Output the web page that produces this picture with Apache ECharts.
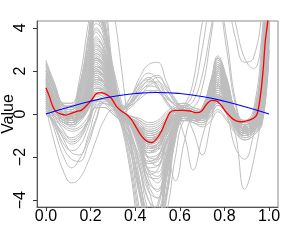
<!DOCTYPE html>
<html><head><meta charset="utf-8">
<script src="https://cdn.jsdelivr.net/npm/echarts@6/dist/echarts.min.js"></script>
<style>html,body{margin:0;padding:0;background:#fff}#c{width:289px;height:241px}</style>
</head><body><div id="c"></div>
<script>
// x positions at which the grey curves were read
const gridX = [0,0.04,0.08,0.115,0.15,0.19, 0.225,0.26,0.30,0.34,0.38, 0.42,0.46,0.50,0.54,0.58, 0.62,0.66,0.70,0.74,0.77, 0.81,0.85,0.89,0.93,0.97,1.0];

// main family
const A1 = [1.8,0.8,0.2,0.1,0.6,2.0, 3.8,3.2,1.2,0.1,-0.4, -1.0,-1.8,-1.6,-0.8,-0.2, 0.1,-0.1,0.2,1.2,2.2, 1.2,-0.2,-0.7,-0.5,1.6,6.5];
const A2 = [1.2,0.4,-0.1,-0.3,-0.1,1.0, 2.6,2.1,0.7,0.0,-0.3, -0.6,-1.2,-1.1,-0.5,0.0, 0.2,0.0,0.1,0.8,1.5, 0.8,-0.3,-0.6,-0.4,0.9,5.5];
const A3 = [0.6,0.1,-0.3,-0.5,-0.3,0.4, 1.3,1.1,0.4,-0.1,-0.4, -0.9,-1.6,-1.5,-0.9,-0.4, -0.2,-0.3,-0.2,0.3,0.8, 0.4,-0.4,-0.8,-0.6,0.2,4.8];
const A4 = [2.2,1.2,0.4,0.3,1.2,3.4, 5.0,4.2,1.6,0.2,-0.5, -1.3,-2.3,-2.1,-1.0,-0.3, 0.0,-0.2,0.1,1.4,2.5, 1.5,0.0,-0.5,-0.1,2.5,8];
const A5 = [0.9,0.2,-0.2,-0.3,0.0,0.8, 1.8,1.5,0.6,0.1,-0.2, -0.5,-0.9,-0.8,-0.3,0.2, 0.3,0.1,0.0,0.5,1.0, 0.5,-0.5,-0.9,-0.7,0.1,4.5];
const A6 = [1.5,0.6,0.0,-0.1,0.3,1.4, 3.2,2.7,1.0,0.1,-0.3, -1.1,-2.0,-1.9,-1.0,-0.3, -0.1,-0.2,0.0,0.9,1.8, 1.0,-0.1,-0.4,-0.2,1.8,7];
const A7 = [0.3,-0.1,-0.4,-0.6,-0.4,0.2, 0.9,0.8,0.3,-0.1,-0.3, -0.7,-1.1,-1.0,-0.5,0.0, 0.1,-0.1,-0.3,0.2,0.6, 0.2,-0.6,-1.0,-0.8,-0.2,4];
const A8 = [2.5,1.4,0.5,0.5,1.6,4.2, 6.0,5.0,2.0,0.3,-0.5, -1.6,-2.8,-2.6,-1.3,-0.4, 0.0,-0.1,0.3,1.6,2.7, 1.7,0.1,-0.4,0.0,3.2,9];
const A9 = [1.0,0.3,-0.1,-0.2,0.1,1.0, 2.3,1.9,0.7,0.0,-0.4, -1.2,-2.6,-2.9,-1.8,-0.6, -0.1,-0.3,-0.1,0.7,1.4, 0.7,-0.3,-0.7,-0.5,0.8,5.5];
const A10 = [0.7,0.1,-0.3,-0.4,-0.1,0.6, 1.5,1.3,0.5,0.0,-0.2, -0.4,-0.7,-0.6,-0.2,0.1, 0.3,0.2,0.1,0.6,1.1, 0.6,-0.2,-0.5,-0.3,1.3,6];
const A11 = [1.3,0.5,0.0,-0.1,0.2,1.2, 2.9,2.5,0.9,0.1,-0.3, -1.0,-2.1,-2.4,-1.4,-0.5, -0.1,-0.2,0.1,1.0,1.9, 1.1,-0.1,-0.5,-0.3,1.1,6];
const A12 = [0.2,-0.2,-0.5,-0.7,-0.6,-0.1, 0.6,0.5,0.1,-0.2,-0.3, -0.6,-1.0,-0.9,-0.5,-0.2, -0.1,-0.3,-0.4,0.0,0.4, 0.0,-0.7,-1.1,-0.9,-0.3,3.5];
const A13 = [1.9,1.0,0.3,0.2,0.8,2.6, 4.4,3.6,1.4,0.2,-0.4, -1.4,-2.7,-3.2,-2.0,-0.6, 0.0,-0.1,0.2,1.3,2.3, 1.3,0.0,-0.4,-0.2,2.2,7.5];
const A14 = [0.5,0.0,-0.3,-0.4,-0.2,0.5, 1.2,1.0,0.4,0.0,-0.1, -0.3,-0.5,-0.4,0.0,0.3, 0.4,0.2,0.0,0.4,0.7, 0.3,-0.4,-0.7,-0.5,0.4,4.5];
const A15 = [1.6,0.7,0.1,0.0,0.4,1.6, 3.5,3.0,1.1,0.1,-0.5, -1.5,-3.0,-3.6,-2.3,-0.8, -0.2,-0.3,0.0,1.1,2.0, 1.1,-0.2,-0.6,-0.4,1.4,6.5];
const A16 = [1.1,0.4,0.0,-0.2,0.0,0.9, 2.1,1.7,0.6,0.0,-0.3, -0.8,-1.4,-1.2,-0.6,-0.1, 0.0,-0.2,-0.1,0.5,1.3, 0.7,-0.4,-0.8,-0.6,0.6,5];
const A17 = [1.4,0.6,0.1,0.0,0.3,1.2, 2.7,2.3,0.8,0.0,-0.2, -0.5,-0.8,-0.7,-0.2,0.3, 0.5,0.3,0.2,0.9,1.7, 0.9,-0.1,-0.5,-0.2,2.0,7];
const A18 = [0.8,0.3,0.0,-0.1,0.1,0.7, 1.6,1.4,0.6,0.1,-0.1, -0.2,-0.4,-0.3,0.1,0.4, 0.5,0.3,0.2,0.7,1.2, 0.6,-0.2,-0.5,-0.3,1.0,5.5];
const A19 = [2.0,1.0,0.3,0.2,0.9,2.9, 4.8,4.0,1.5,0.2,-0.4, -1.2,-2.2,-2.0,-1.0,-0.3, 0.1,0.0,0.3,1.5,2.6, 1.6,0.1,-0.3,0.2,3.8,10];
const A20 = [0.0,-0.3,-0.6,-0.8,-0.7,-0.3, 0.3,0.3,0.0,-0.3,-0.4, -0.7,-1.0,-0.9,-0.6,-0.3, -0.3,-0.4,-0.6,-0.3,0.1, -0.3,-0.9,-1.2,-1.0,-0.4,3];
const F1 = [2.4,1.3,0.4,0.3,1.0,3.0, 5.5,4.5,1.7,0.3,-0.3, -0.9,-1.6,-1.4,-0.6,0.0, 0.2,0.0,0.2,1.2,2.1, 1.2,-0.1,-0.6,-0.3,2.2,8];
const F2 = [1.7,0.8,0.2,0.0,0.5,1.7, 3.6,3.0,1.1,0.0,-0.6, -1.7,-3.3,-3.9,-2.6,-1.0, -0.3,-0.3,0.0,1.0,1.9, 1.0,-0.3,-0.7,-0.5,1.0,6];
const F3 = [1.0,0.4,0.0,-0.1,0.2,1.0, 2.0,1.7,0.7,0.1,-0.1, -0.3,-0.6,-0.5,-0.1,0.3, 0.4,0.2,0.1,0.9,1.6, 0.9,-0.2,-0.6,-0.4,1.2,6];
const F4 = [0.5,0.1,-0.2,-0.3,-0.1,0.6, 1.4,1.2,0.5,0.0,-0.3, -0.8,-1.5,-1.4,-0.7,-0.1, 0.1,-0.1,-0.1,0.6,1.2, 0.6,-0.4,-0.8,-0.6,0.5,5];
const F5 = [2.1,1.1,0.4,0.3,1.1,3.1, 5.2,4.4,1.7,0.2,-0.5, -1.5,-2.9,-3.0,-1.7,-0.4, 0.1,0.0,0.3,1.4,2.4, 1.4,0.0,-0.4,-0.1,2.6,8.5];
const F6 = [1.3,0.5,0.0,-0.2,0.1,1.0, 2.4,2.0,0.8,0.0,-0.5, -1.3,-2.3,-2.2,-1.2,-0.4, -0.1,-0.2,0.0,0.8,1.5, 0.8,-0.3,-0.7,-0.5,0.8,5.5];
const F7 = [0.9,0.3,-0.1,-0.2,0.1,0.8, 1.7,1.5,0.6,0.1,-0.2, -0.6,-1.0,-0.9,-0.4,0.1, 0.2,0.0,0.0,0.7,1.3, 0.6,-0.4,-0.8,-0.6,0.7,5.5];
const F8 = [1.8,0.9,0.3,0.2,0.8,2.4, 4.6,3.8,1.4,0.1,-0.5, -1.4,-2.5,-2.4,-1.3,-0.4, 0.0,-0.1,0.2,1.2,2.2, 1.2,0.0,-0.5,-0.2,2.0,7.5];
const F9 = [0.4,-0.1,-0.4,-0.5,-0.3,0.3, 1.0,0.9,0.3,-0.1,-0.3, -0.6,-1.2,-1.1,-0.6,-0.1, 0.0,-0.2,-0.2,0.3,0.7, 0.3,-0.6,-1.0,-0.8,0.0,4];
const F10 = [1.5,0.7,0.1,0.0,0.4,1.5, 3.3,2.8,1.1,0.1,-0.3, -0.9,-1.7,-1.6,-0.8,-0.2, 0.0,-0.1,0.1,1.0,1.8, 1.0,-0.2,-0.6,-0.4,1.3,6.5];
const F11 = [2.3,1.2,0.4,0.4,1.3,3.7, 6.5,5.5,2.2,0.3,-0.6, -1.8,-3.2,-3.5,-2.0,-0.5, 0.0,0.0,0.3,1.6,2.6, 1.6,0.1,-0.3,0.0,3.0,9];
const F12 = [1.1,0.4,0.0,-0.1,0.2,1.0, 2.2,1.9,0.8,0.1,-0.2, -0.5,-0.9,-0.8,-0.3,0.2, 0.3,0.1,0.1,0.8,1.4, 0.7,-0.3,-0.7,-0.5,0.9,5.5];
const F13 = [0.7,0.2,-0.2,-0.3,0.0,0.7, 1.6,1.4,0.5,0.0,-0.4, -1.1,-2.0,-2.1,-1.2,-0.4, -0.2,-0.3,-0.2,0.4,0.9, 0.4,-0.5,-0.9,-0.7,0.3,4.5];
const F14 = [1.6,0.8,0.2,0.1,0.6,2.0, 4.0,3.4,1.3,0.1,-0.4, -1.2,-2.2,-2.0,-1.0,-0.2, 0.1,0.0,0.2,1.1,2.0, 1.1,-0.1,-0.5,-0.3,1.7,7];
const F15 = [0.3,-0.1,-0.4,-0.5,-0.3,0.3, 1.1,1.0,0.4,0.0,-0.2, -0.4,-0.8,-0.7,-0.3,0.1, 0.2,0.0,-0.1,0.4,0.8, 0.3,-0.5,-0.9,-0.7,0.2,4.5];
const F16 = [2.0,1.0,0.3,0.2,0.9,2.7, 5.0,4.1,1.5,0.1,-0.5, -1.4,-2.6,-2.7,-1.5,-0.4, 0.0,-0.1,0.2,1.3,2.3, 1.3,0.0,-0.4,-0.1,2.4,8];

// deep dips near 0.5
const D1 = [1.4,0.6,0.1,0.0,0.4,1.5, 3.4,3.0,1.2,-0.2,-1.5, -3.5,-5.5,-5.8,-3.5,-1.0, -0.1,-0.2,0.0,1.0,1.9, 1.0,-0.2,-0.6,-0.4,1.2,6];
const D2 = [0.8,0.2,-0.2,-0.3,0.0,0.9, 2.2,2.0,0.8,-0.6,-2.8, -5.5,-6.5,-6.0,-3.0,-0.6, 0.1,-0.1,0.0,0.8,1.6, 0.8,-0.3,-0.7,-0.5,0.7,5.5];
const D3 = [2.0,1.1,0.3,0.2,0.8,2.4, 4.8,4.2,2.0,0.2,-1.0, -3.0,-5.0,-5.2,-2.8,-0.7, 0.0,-0.1,0.2,1.4,2.4, 1.4,0.0,-0.4,-0.2,2.0,7];
const D4 = [1.0,0.3,-0.1,-0.2,0.2,1.1, 2.6,2.3,1.0,-0.1,-0.8, -2.5,-4.5,-4.8,-2.5,-0.5, 0.0,-0.2,-0.1,0.7,1.4, 0.7,-0.3,-0.7,-0.5,0.6,5.5];
const D5 = [1.7,0.8,0.2,0.1,0.6,2.0, 4.2,3.8,1.8,-0.3,-2.5, -5.0,-6.0,-5.5,-2.2,-0.3, 0.1,0.0,0.1,1.2,2.1, 1.2,-0.1,-0.5,-0.3,1.6,6.5];
const D6 = [2.3,1.3,0.5,0.5,1.3,3.5, 6.5,7.0,5.0,2.0,-1.5, -4.5,-6.5,-6.0,-2.5,-0.4, 0.0,-0.1,0.2,1.5,2.6, 1.5,0.0,-0.4,-0.2,2.8,8];
const D7 = [0.4,0.0,-0.3,-0.4,-0.2,0.4, 1.2,1.1,0.3,-0.5,-1.2, -2.6,-4.0,-4.4,-2.4,-0.6, 0.0,-0.2,-0.2,0.3,0.9, 0.4,-0.5,-0.9,-0.7,0.0,4.5];
const D8 = [1.2,0.5,0.0,-0.1,0.3,1.3, 3.0,2.6,1.0,-0.1,-1.0, -2.0,-3.5,-4.5,-3.8,-1.2, -0.2,-0.2,0.0,0.9,1.7, 0.9,-0.2,-0.6,-0.4,0.9,6];
const G1 = [1.1,0.4,0.0,-0.1,0.2,1.1, 2.5,2.3,1.0,-0.3,-1.8, -3.8,-5.2,-5.0,-3.0,-0.8, 0.0,-0.1,0.0,0.8,1.6, 0.8,-0.2,-0.6,-0.4,1.0,6];
const G2 = [1.6,0.7,0.1,0.0,0.5,1.8, 3.9,3.5,1.6,-0.1,-2.2, -4.8,-6.5,-6.5,-4.0,-1.2, -0.1,-0.1,0.1,1.1,2.0, 1.1,-0.1,-0.5,-0.3,1.5,6.5];
const G3 = [0.6,0.1,-0.2,-0.3,0.0,0.6, 1.6,1.5,0.6,-0.4,-1.5, -3.2,-4.6,-4.2,-2.0,-0.4, 0.1,-0.1,-0.1,0.5,1.1, 0.5,-0.4,-0.8,-0.6,0.4,5];
const G4 = [1.9,1.0,0.3,0.2,0.7,2.2, 4.5,4.0,2.2,0.5,-1.2, -3.6,-5.8,-6.2,-3.8,-1.0, 0.0,-0.1,0.2,1.3,2.2, 1.3,0.0,-0.4,-0.2,2.0,7];
const G5 = [0.9,0.3,-0.1,-0.2,0.1,0.9, 2.0,1.8,0.8,-0.2,-1.0, -2.2,-3.6,-3.9,-2.4,-0.7, -0.1,-0.2,0.0,0.6,1.3, 0.6,-0.3,-0.7,-0.5,0.6,5.5];
const G6 = [1.4,0.6,0.1,0.0,0.4,1.5, 3.2,2.9,1.3,0.0,-1.4, -3.2,-4.8,-5.6,-4.6,-2.0, -0.3,-0.2,0.0,1.0,1.8, 1.0,-0.2,-0.6,-0.4,1.1,6];
const G7 = [0.3,-0.1,-0.4,-0.5,-0.3,0.3, 1.0,1.0,0.4,-0.6,-1.8, -3.6,-4.8,-4.4,-2.2,-0.5, 0.0,-0.2,-0.3,0.2,0.7, 0.3,-0.6,-1.0,-0.8,0.0,4];
const G8 = [1.2,0.5,0.0,-0.1,0.3,1.2, 2.8,2.5,1.1,0.0,-0.9, -2.4,-4.0,-4.6,-3.0,-0.9, -0.1,-0.2,0.0,0.9,1.7, 0.9,-0.2,-0.6,-0.4,1.0,6];

// bumps near 0.5
const B1 = [0.9,0.2,-0.2,-0.3,-0.1,0.6, 1.4,1.2,0.4,0.0,0.5, 1.3,1.7,1.3,0.6,0.2, 0.0,-0.2,0.0,0.5,0.9, 0.4,-0.4,-0.8,-0.6,0.3,5];
const B2 = [1.3,0.5,0.0,-0.1,0.2,1.1, 2.4,2.0,0.7,0.2,0.6, 1.2,1.5,1.4,0.8,0.4, 0.2,0.0,0.1,0.7,1.3, 0.7,-0.3,-0.6,-0.4,1.0,5.5];
const B3 = [0.6,0.0,-0.3,-0.4,-0.2,0.4, 1.0,0.9,0.4,0.2,0.6, 1.5,1.9,1.6,0.9,0.4, 0.1,-0.1,-0.1,0.3,0.7, 0.3,-0.5,-0.9,-0.7,0.2,4.5];
const B4 = [1.0,0.3,-0.1,-0.2,0.1,0.8, 1.9,1.7,0.8,0.4,0.5, 0.9,1.1,1.0,0.7,0.5, 0.3,0.1,0.0,0.6,1.1, 0.6,-0.3,-0.7,-0.5,0.5,5];
const B5 = [0.4,-0.1,-0.4,-0.5,-0.3,0.2, 0.8,0.7,0.3,0.1,0.3, 0.8,1.3,1.5,1.1,0.6, 0.2,-0.1,-0.2,0.2,0.5, 0.2,-0.6,-1.0,-0.8,-0.1,4];
const B6 = [1.6,0.7,0.1,0.0,0.4,1.4, 3.1,2.6,1.0,0.3,0.5, 1.0,1.3,1.2,0.6,0.1, 0.0,-0.1,0.1,0.9,1.6, 0.8,-0.2,-0.5,-0.3,1.5,6];
const B7 = [0.8,0.2,-0.2,-0.3,0.0,0.7, 1.6,1.4,0.6,0.3,0.8, 1.7,2.3,2.4,1.5,0.6, 0.2,-0.1,0.0,0.5,1.0, 0.5,-0.4,-0.8,-0.6,0.4,5];
const H1 = [1.1,0.4,0.0,-0.1,0.2,0.9, 2.1,1.8,0.7,0.3,0.8, 1.4,1.6,1.2,0.5,0.1, 0.0,-0.1,0.1,0.7,1.3, 0.7,-0.3,-0.7,-0.5,0.8,5.5];
const H2 = [0.7,0.1,-0.2,-0.3,-0.1,0.5, 1.2,1.1,0.5,0.3,0.4, 0.7,1.0,1.1,0.8,0.4, 0.1,-0.1,-0.1,0.4,0.8, 0.3,-0.5,-0.9,-0.7,0.3,4.5];
const H3 = [1.4,0.6,0.1,0.0,0.3,1.3, 2.8,2.4,0.9,0.2,0.4, 1.0,1.4,1.7,1.3,0.7, 0.2,0.0,0.1,0.8,1.5, 0.8,-0.2,-0.6,-0.4,1.0,6];
const H4 = [0.5,0.0,-0.3,-0.4,-0.2,0.3, 0.9,0.8,0.4,0.2,0.5, 1.1,1.6,1.8,1.2,0.5, 0.0,-0.2,-0.2,0.2,0.6, 0.2,-0.6,-1.0,-0.8,0.0,4];

// low dips near 0.12
const C1 = [0.3,-1.4,-2.7,-3.2,-3.0,-2.2, -1.2,-0.3,0.2,-0.1,-0.4, -0.8,-1.3,-1.2,-0.6,-0.1, 0.0,-0.2,-0.2,0.3,0.8, 0.3,-0.5,-0.9,-0.7,0.2,4.5];
const C2 = [0.5,-0.8,-2.0,-2.5,-2.1,-1.2, -0.2,0.6,0.5,0.0,-0.3, -0.7,-1.2,-1.1,-0.5,0.0, 0.1,-0.1,-0.1,0.4,0.9, 0.4,-0.4,-0.8,-0.6,0.4,5];
const C3 = [0.2,-0.6,-1.6,-2.1,-2.2,-1.4, -0.3,0.5,0.3,-0.2,-0.5, -0.9,-1.4,-1.3,-0.7,-0.2, -0.1,-0.3,-0.3,0.1,0.5, 0.1,-0.6,-1.0,-0.8,0.0,4];
const C4 = [0.6,-0.3,-1.2,-1.8,-1.9,-1.0, 0.2,0.7,0.3,-0.1,-0.4, -0.8,-1.2,-1.0,-0.4,0.0, 0.1,-0.1,-0.1,0.3,0.7, 0.3,-0.5,-0.9,-0.7,0.3,4.5];
const C5 = [0.1,-0.5,-1.1,-1.4,-1.2,-0.4, 0.4,0.5,0.2,-0.2,-0.5, -0.9,-1.3,-1.2,-0.7,-0.3, -0.2,-0.3,-0.4,0.0,0.4, 0.0,-0.7,-1.1,-0.9,-0.2,3.5];
const C6 = [0.0,-0.4,-0.9,-1.1,-0.9,-0.3, 0.3,0.3,0.0,-0.3,-0.5, -0.8,-1.1,-1.0,-0.6,-0.3, -0.3,-0.4,-0.5,-0.1,0.2, -0.2,-0.8,-1.2,-1.0,-0.3,3];
const I1 = [0.4,-0.5,-1.4,-1.7,-1.5,-0.6, 0.5,0.7,0.3,-0.1,-0.4, -0.8,-1.3,-1.2,-0.6,-0.1, 0.0,-0.2,-0.2,0.3,0.7, 0.3,-0.5,-0.9,-0.7,0.1,4.5];
const I2 = [0.2,-0.4,-1.0,-1.3,-1.1,-0.3, 0.6,0.7,0.3,-0.1,-0.4, -0.9,-1.5,-1.4,-0.8,-0.2, -0.1,-0.3,-0.3,0.2,0.6, 0.2,-0.6,-1.0,-0.8,0.0,4];
const I3 = [0.6,-0.1,-0.8,-1.2,-1.0,-0.2, 0.9,1.0,0.4,0.0,-0.3, -0.7,-1.1,-1.0,-0.4,0.0, 0.1,-0.1,-0.1,0.4,0.8, 0.4,-0.4,-0.8,-0.6,0.3,4.5];

// outlying curves
const E1 = [0.8,0.2,-0.2,-0.3,0.0,0.8, 1.8,1.5,0.6,0.0,-0.3, -0.7,-1.2,-1.0,-0.4,0.0, 0.1,-0.1,0.0,0.5,0.9, 0.2,-1.0,-3.5,-2.2,0.5,5];
const E2 = [1.1,0.4,0.0,-0.2,0.1,0.9, 2.0,1.7,0.6,-0.1,-0.6, -1.2,-1.8,-1.6,-1.9,-3.1, -1.3,-0.1,0.0,0.6,1.2, 0.6,-0.3,-0.7,-0.5,0.6,5];
const E3 = [0.9,0.3,-0.1,-0.3,0.0,0.8, 1.7,1.4,0.5,0.0,-0.3, -0.9,-1.6,-1.4,-0.6,-0.2, -1.0,-2.6,-1.1,0.3,0.9, 0.4,-0.4,-0.8,-0.6,0.4,5];
const E4 = [1.2,0.5,0.0,-0.1,0.2,1.1, 2.5,2.1,0.8,0.0,-0.3, -0.8,-1.3,-1.1,-0.4,0.1, 0.0,-0.8,-1.9,-0.4,0.8, 0.6,-0.3,-0.6,-0.4,0.8,5.5];
const E5 = [0.7,0.1,-0.3,-0.4,-0.1,0.6, 1.5,1.3,0.5,0.0,-0.3, -0.7,-1.2,-1.1,-0.5,0.0, 0.1,-0.1,-0.1,0.4,0.8, 0.0,-1.6,-2.1,-1.0,0.6,5];
const E6 = [1.5,0.6,0.0,-0.1,0.3,1.3, 3.0,2.6,1.0,0.1,-0.3, -1.0,-1.8,-1.7,-0.8,-0.1, 0.2,0.3,1.2,3.6,5.5, 3.5,0.6,-0.4,-0.2,1.6,6.5];
const E7 = [1.0,0.3,-0.1,-0.2,0.1,1.0, 2.2,1.9,0.7,0.0,-0.3, -0.8,-1.4,-1.2,-0.5,0.0, 0.3,0.6,1.8,4.0,5.5, 6.0,4.2,2.6,2.1,3.8,8];
const E8 = [1.3,0.5,0.0,-0.1,0.2,1.1, 2.6,2.2,0.8,0.0,-0.3, -0.9,-1.6,-1.5,-0.7,-0.1, 0.3,1.0,3.0,5.5,6.5, 5.5,3.5,2.4,2.6,5.0,9];
const E9 = [0.9,0.3,-0.1,-0.2,0.1,0.9, 1.9,1.6,0.6,0.0,-0.3, -0.8,-1.3,-1.2,-0.5,0.0, 0.4,1.5,4.2,6.0,5.5, 3.0,0.4,-0.5,-0.3,1.2,6];

const grayCurves = [A1,A2,A3,A4,A5,A6,A7,A8,A9,A10,A11,A12,A13,A14,A15,A16,A17,A18,A19,A20,
  F1,F2,F3,F4,F5,F6,F7,F8,F9,F10,F11,F12,F13,F14,F15,F16,
  D1,D2,D3,D4,D5,D6,D7,D8, G1,G2,G3,G4,G5,G6,G7,G8,
  B1,B2,B3,B4,B5,B6,B7, H1,H2,H3,H4,
  C1,C2,C3,C4,C5,C6, I1,I2,I3,
  E1,E2,E3,E4,E5,E6,E7,E8,E9];

// red curve
const redX = [0,0.015,0.03,0.045,0.068,0.09,0.113,0.135,0.158,0.18,0.203,0.225,0.248,0.27,0.293,0.315,0.338,0.36,0.383,0.405,0.428,0.45,0.473,0.495,0.518,0.54,0.555,0.578,0.616,0.645,0.676,0.698,0.72,0.743,0.766,0.788,0.81,0.84,0.87,0.9,0.93,0.946,0.96,0.973,0.983,0.994,1.0];
const redY = [1.22,0.83,0.37,0.11,-0.01,-0.05,0.03,0.11,0.17,0.37,0.63,0.94,0.99,0.91,0.73,0.37,0.14,-0.01,-0.25,-0.63,-1.02,-1.25,-1.33,-1.17,-0.79,-0.25,0.06,0.17,0.17,0.14,0.06,0.14,0.45,0.63,0.6,0.37,0.06,-0.25,-0.36,-0.32,-0.2,-0.01,0.75,1.99,3.38,4.3,5.3];

// blue curve
const blueX = [0,0.1,0.2,0.3,0.4,0.5,0.6,0.7,0.8,0.9,1.0];
const blueY = [0,0.31,0.59,0.81,0.95,1.0,0.95,0.81,0.59,0.31,0];

const xTicks = [0,0.2,0.4,0.6,0.8,1.0];
const yTicks = [-4,-2,0,2,4];

const FONT = 'Liberation Sans, Arial, Helvetica, sans-serif';
const zip = (xs, ys) => xs.map((x, i) => [x, ys[i]]);

const series = grayCurves.map(c => ({
  type: 'line', data: zip(gridX, c), smooth: 0.45, showSymbol: false, silent: true,
  lineStyle: { color: '#bebebe', width: 1 }, z: 1
}));
series.push({ type: 'line', data: zip(redX, redY), smooth: 0.3, showSymbol: false, silent: true,
  lineStyle: { color: '#ff0000', width: 1.3 }, z: 3 });
series.push({ type: 'line', data: zip(blueX, blueY), smooth: true, showSymbol: false, silent: true,
  lineStyle: { color: '#0000ff', width: 1.1 }, z: 4 });

const chart = echarts.init(document.getElementById('c'), null, { renderer: 'canvas' });
chart.setOption({
  animation: false,
  backgroundColor: '#fff',
  grid: { left: 37, right: 11, top: 21, bottom: 34, show: true, borderColor: '#8c8c8c', borderWidth: 1,
          containLabel: false, outerBoundsMode: 'none' },
  xAxis: {
    type: 'value', min: -0.04, max: 1.04,
    splitLine: { show: false },
    axisLine: { show: true, onZero: false, lineStyle: { color: '#555' } },
    axisTick: { show: true, customValues: xTicks, length: 4, lineStyle: { color: '#333' } },
    axisLabel: { customValues: xTicks, formatter: v => v.toFixed(1), fontSize: 16, color: '#000', margin: 2, fontFamily: FONT }
  },
  yAxis: {
    type: 'value', min: -4.32, max: 4.32,
    name: 'Value', nameLocation: 'middle', nameGap: 20, nameRotate: 90, nameMoveOverlap: false,
    nameTextStyle: { fontSize: 16, color: '#000', fontFamily: FONT, verticalAlign: 'bottom' },
    splitLine: { show: false },
    axisLine: { show: true, onZero: false, lineStyle: { color: '#555' } },
    axisTick: { show: true, customValues: yTicks, length: 4, lineStyle: { color: '#333' } },
    axisLabel: { customValues: yTicks, rotate: 90, align: 'center', verticalAlign: 'bottom',
                 formatter: v => String(v).replace('-', '\u2212'), fontSize: 16, color: '#000', margin: 8, fontFamily: FONT }
  },
  series: series
});
</script>
</body></html>
